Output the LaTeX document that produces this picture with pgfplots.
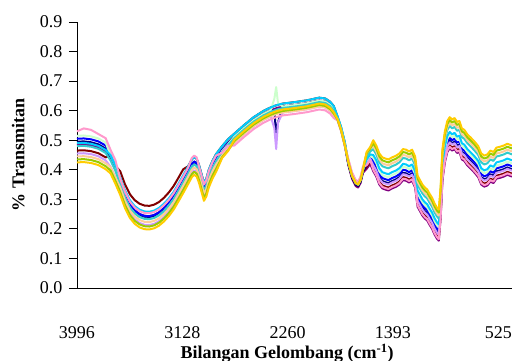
\documentclass[border=0pt]{standalone}
\usepackage{fontspec}
\setmainfont{Liberation Serif}
\usepackage{pgfplots}
\usepackage{pgfplotstable}
\pgfplotsset{compat=1.18}
\definecolor{cpurple}{HTML}{800080}
\definecolor{cmaroon}{HTML}{800000}
\definecolor{cnavy}{HTML}{000080}
\definecolor{cblue}{HTML}{0000FF}
\definecolor{cltgreen}{HTML}{CCFFCC}
\definecolor{clavender}{HTML}{CC99FF}
\definecolor{cskyblue}{HTML}{00CCFF}
\definecolor{cteal}{HTML}{33CCCC}
\definecolor{cpeach}{HTML}{FFCC99}
\definecolor{cpink}{HTML}{FF99CC}
\definecolor{colive}{HTML}{99CC00}
\definecolor{cgold}{HTML}{FFCC00}
\pgfplotstableread{
x s1 s2 s3 s4 s5 s6 s7 s8 s9 s10 s11 s12
3996 .485 .465 .495 .505 .515 .455 .490 .480 .445 .530 .435 .425
3940 .486 .466 .496 .506 .516 .456 .491 .481 .446 .540 .436 .426
3880 .483 .463 .493 .503 .513 .453 .488 .478 .443 .535 .433 .423
3820 .476 .456 .486 .496 .506 .446 .481 .471 .436 .521 .426 .416
3760 .462 .442 .472 .482 .492 .432 .467 .457 .422 .507 .412 .402
3720 .440 .448 .442 .450 .450 .410 .450 .432 .410 .468 .398 .388
3680 .405 .413 .407 .415 .415 .375 .415 .397 .375 .433 .363 .353
3640 .360 .395 .355 .360 .350 .330 .375 .350 .340 .370 .325 .315
3600 .315 .350 .310 .315 .305 .285 .330 .305 .295 .325 .280 .270
3560 .282 .317 .277 .282 .272 .252 .297 .272 .262 .292 .247 .237
3520 .262 .297 .257 .262 .252 .232 .277 .252 .242 .272 .227 .217
3480 .250 .285 .245 .250 .240 .220 .265 .240 .230 .260 .215 .205
3440 .244 .279 .239 .244 .234 .214 .259 .234 .224 .254 .209 .199
3400 .243 .278 .238 .243 .233 .213 .258 .233 .223 .253 .208 .198
3360 .247 .282 .242 .247 .237 .217 .262 .237 .227 .257 .212 .202
3320 .256 .291 .251 .256 .246 .226 .271 .246 .236 .266 .221 .211
3280 .270 .305 .265 .270 .260 .240 .285 .260 .250 .280 .235 .225
3240 .288 .323 .283 .288 .278 .258 .303 .278 .268 .298 .253 .243
3200 .310 .345 .305 .310 .300 .280 .325 .300 .290 .320 .275 .265
3160 .338 .373 .333 .338 .328 .308 .353 .328 .318 .348 .303 .293
3120 .367 .402 .362 .367 .357 .337 .382 .357 .347 .377 .332 .322
3080 .397 .412 .392 .397 .387 .367 .412 .387 .377 .407 .362 .352
3050 .420 .435 .415 .420 .410 .390 .435 .410 .400 .440 .385 .375
3030 .428 .443 .423 .428 .418 .398 .443 .418 .408 .448 .393 .383
3010 .422 .437 .417 .422 .412 .392 .437 .412 .402 .442 .387 .377
2990 .400 .415 .395 .400 .390 .370 .415 .390 .380 .410 .365 .355
2970 .370 .385 .365 .370 .360 .340 .385 .360 .350 .380 .335 .325
2950 .340 .355 .335 .340 .330 .310 .355 .330 .320 .350 .305 .295
2930 .355 .370 .350 .355 .345 .325 .370 .345 .335 .365 .320 .310
2910 .385 .400 .380 .385 .375 .355 .400 .375 .365 .395 .350 .340
2880 .415 .430 .410 .415 .405 .385 .430 .405 .395 .425 .380 .370
2850 .438 .453 .433 .438 .428 .408 .453 .428 .418 .448 .403 .393
2800 .468 .480 .466 .466 .463 .443 .480 .460 .448 .458 .443 .440
2750 .492 .504 .490 .490 .487 .467 .504 .484 .472 .482 .467 .464
2700 .512 .522 .512 .507 .512 .492 .522 .507 .492 .482 .497 .502
2620 .541 .551 .541 .536 .541 .521 .551 .536 .521 .511 .526 .531
2540 .568 .578 .568 .563 .568 .548 .578 .563 .548 .538 .553 .558
2460 .589 .599 .589 .584 .589 .569 .599 .584 .569 .559 .574 .579
2400 .601 .611 .601 .596 .601 .581 .611 .596 .581 .571 .586 .591
2370 .606 .616 .600 .601 .640 .540 .616 .601 .586 .576 .591 .596
2355 .608 .618 .520 .603 .680 .470 .618 .603 .588 .578 .593 .598
2340 .610 .620 .560 .605 .625 .560 .620 .605 .590 .580 .595 .600
2300 .614 .624 .614 .609 .614 .594 .624 .609 .594 .584 .599 .604
2200 .619 .629 .619 .614 .619 .599 .629 .614 .599 .589 .604 .609
2100 .625 .635 .625 .620 .625 .605 .635 .620 .605 .595 .610 .615
2000 .634 .644 .634 .629 .634 .614 .644 .629 .614 .604 .619 .624
1950 .631 .641 .631 .626 .631 .611 .641 .626 .611 .601 .616 .621
1910 .620 .630 .620 .615 .620 .600 .630 .615 .600 .590 .605 .610
1880 .605 .615 .605 .600 .605 .585 .615 .600 .585 .575 .590 .595
1850 .572 .580 .574 .574 .577 .570 .582 .574 .572 .567 .570 .572
1820 .535 .543 .537 .537 .540 .533 .545 .537 .535 .530 .533 .535
1790 .485 .493 .487 .487 .490 .483 .495 .487 .485 .480 .483 .485
1760 .415 .420 .420 .425 .425 .430 .425 .425 .435 .435 .425 .425
1730 .370 .375 .375 .380 .380 .385 .380 .380 .390 .390 .380 .380
1700 .345 .350 .350 .355 .355 .360 .355 .355 .365 .365 .355 .355
1680 .340 .345 .345 .350 .350 .355 .350 .350 .360 .360 .350 .350
1660 .355 .360 .360 .365 .365 .370 .365 .365 .375 .375 .365 .365
1640 .390 .395 .395 .400 .400 .405 .400 .400 .410 .410 .400 .400
1610 .403 .410 .417 .425 .430 .420 .435 .445 .455 .415 .455 .460
1580 .420 .427 .434 .442 .447 .437 .452 .462 .472 .432 .472 .477
1555 .395 .405 .420 .430 .440 .415 .450 .470 .480 .400 .490 .500
1530 .377 .387 .402 .412 .422 .397 .432 .452 .462 .382 .472 .482
1505 .350 .360 .375 .385 .395 .370 .405 .425 .435 .355 .445 .455
1480 .337 .347 .362 .372 .382 .357 .392 .412 .422 .342 .432 .442
1455 .333 .343 .358 .368 .378 .353 .388 .408 .418 .338 .428 .438
1430 .330 .340 .355 .365 .375 .350 .385 .405 .415 .335 .425 .435
1400 .337 .347 .362 .372 .382 .357 .392 .412 .422 .342 .432 .442
1370 .342 .352 .367 .377 .387 .362 .397 .417 .427 .347 .437 .447
1340 .350 .360 .375 .385 .395 .370 .405 .425 .435 .355 .445 .455
1310 .365 .375 .390 .400 .410 .385 .420 .440 .450 .370 .460 .470
1285 .363 .373 .388 .398 .408 .383 .418 .438 .448 .368 .458 .468
1260 .357 .367 .382 .392 .402 .377 .412 .432 .442 .362 .452 .462
1235 .363 .373 .388 .398 .408 .383 .418 .438 .448 .368 .458 .468
1210 .340 .350 .365 .375 .385 .360 .395 .415 .425 .345 .435 .445
1190 .275 .285 .300 .310 .320 .295 .330 .350 .360 .280 .370 .380
1170 .260 .270 .285 .295 .305 .280 .315 .335 .345 .265 .355 .365
1150 .245 .255 .270 .280 .290 .265 .300 .320 .330 .250 .340 .350
1130 .235 .245 .260 .270 .280 .255 .290 .310 .320 .240 .330 .340
1110 .228 .238 .253 .263 .273 .248 .283 .303 .313 .233 .323 .333
1090 .213 .223 .238 .248 .258 .233 .268 .288 .298 .218 .308 .318
1070 .200 .210 .225 .235 .245 .220 .255 .275 .285 .205 .295 .305
1050 .181 .191 .206 .216 .226 .201 .236 .256 .266 .186 .276 .286
1030 .167 .177 .192 .202 .212 .187 .222 .242 .252 .172 .262 .272
1015 .160 .170 .185 .195 .205 .180 .215 .235 .245 .165 .255 .265
1000 .235 .245 .260 .270 .280 .255 .290 .310 .320 .240 .330 .340
985 .365 .375 .390 .400 .410 .385 .420 .440 .450 .370 .460 .470
965 .425 .435 .450 .460 .470 .445 .480 .500 .510 .430 .520 .530
945 .460 .470 .485 .495 .505 .480 .515 .535 .545 .465 .555 .565
925 .473 .483 .498 .508 .518 .493 .528 .548 .558 .478 .568 .578
905 .465 .475 .490 .500 .510 .485 .520 .540 .550 .470 .560 .570
885 .470 .480 .495 .505 .515 .490 .525 .545 .555 .475 .565 .575
865 .457 .467 .482 .492 .502 .477 .512 .532 .542 .462 .552 .562
845 .460 .470 .485 .495 .505 .480 .515 .535 .545 .465 .555 .565
825 .435 .445 .460 .470 .480 .455 .490 .510 .520 .440 .530 .540
805 .430 .440 .455 .465 .475 .450 .485 .505 .515 .435 .525 .535
780 .415 .425 .440 .450 .460 .435 .470 .490 .500 .420 .510 .520
750 .403 .413 .428 .438 .448 .423 .458 .478 .488 .408 .498 .508
720 .390 .400 .415 .425 .435 .410 .445 .465 .475 .395 .485 .495
690 .375 .385 .400 .410 .420 .395 .430 .450 .460 .380 .470 .480
665 .350 .360 .375 .385 .395 .370 .405 .425 .435 .355 .445 .455
640 .343 .353 .368 .378 .388 .363 .398 .418 .428 .348 .438 .448
615 .347 .357 .372 .382 .392 .367 .402 .422 .432 .352 .442 .452
590 .360 .370 .385 .395 .405 .380 .415 .435 .445 .365 .455 .465
565 .355 .365 .380 .390 .400 .375 .410 .430 .440 .360 .450 .460
540 .370 .380 .395 .405 .415 .390 .425 .445 .455 .375 .465 .475
510 .373 .383 .398 .408 .418 .393 .428 .448 .458 .378 .468 .478
480 .377 .387 .402 .412 .422 .397 .432 .452 .462 .382 .472 .482
450 .383 .393 .408 .418 .428 .403 .438 .458 .468 .388 .478 .488
412 .377 .387 .402 .412 .422 .397 .432 .452 .462 .382 .472 .482
}\spectra
\begin{document}
\begin{tikzpicture}
\path[use as bounding box] (-77pt,-73pt) rectangle (435pt,288pt);
\begin{axis}[
  at={(0pt,0pt)}, anchor=south west,
  scale only axis, width=435pt, height=266pt,
  xmin=412, xmax=3996, x dir=reverse,
  ymin=0, ymax=0.9,
  axis x line*=bottom, axis y line*=left,
  axis line style={line width=0.8pt, black},
  xtick={3996,3128,2260,1393,525},
  xticklabels={3996,3128,2260,1393,525},
  xtick style={draw=none},
  ytick={0,0.1,0.2,0.3,0.4,0.5,0.6,0.7,0.8,0.9},
  tick align=outside, major tick length=8pt,
  ytick style={line width=0.8pt, black},
  yticklabel style={xshift=-3pt, /pgf/number format/.cd, fixed, fixed zerofill, precision=1, assume math mode=true},
  tick label style={font=\fontsize{18}{20}\selectfont},
  xticklabel style={anchor=center, yshift=-37pt},
  label style={font=\fontsize{18}{20}\selectfont\bfseries},
  xlabel={Bilangan Gelombang (cm\textsuperscript{-1})},
  ylabel={\% Transmitan},
  xlabel style={at={(axis description cs:0.483,-0.245)}, anchor=center},
  ylabel style={at={(axis description cs:-0.135,0.5)}, anchor=center},
  every axis plot/.append style={line width=2pt, no markers, line join=round},
  clip=false,
]
\addplot[cpurple] table[x=x,y=s1] {\spectra};
\addplot[cmaroon] table[x=x,y=s2] {\spectra};
\addplot[cnavy] table[x=x,y=s3] {\spectra};
\addplot[cblue] table[x=x,y=s4] {\spectra};
\addplot[cltgreen] table[x=x,y=s5] {\spectra};
\addplot[clavender] table[x=x,y=s6] {\spectra};
\addplot[cskyblue] table[x=x,y=s7] {\spectra};
\addplot[cteal] table[x=x,y=s8] {\spectra};
\addplot[cpeach] table[x=x,y=s9] {\spectra};
\addplot[cpink] table[x=x,y=s10] {\spectra};
\addplot[colive] table[x=x,y=s11] {\spectra};
\addplot[cgold] table[x=x,y=s12] {\spectra};
\end{axis}
\end{tikzpicture}
\end{document}
